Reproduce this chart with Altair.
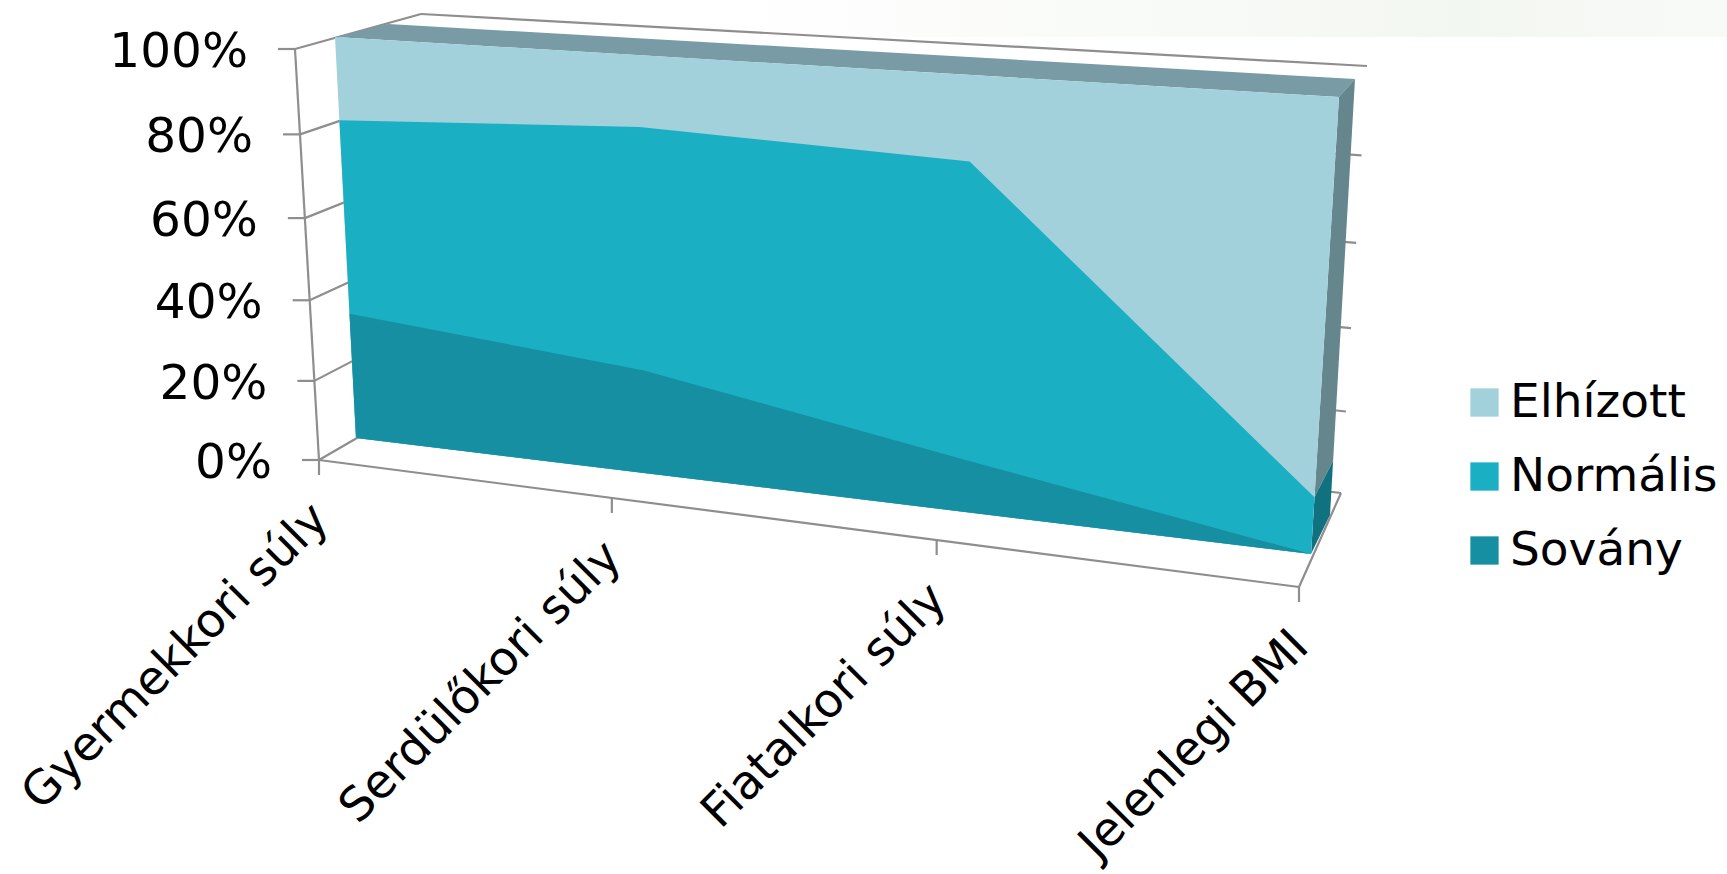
import altair as alt
import numpy as np
import pandas as pd

# Share of respondents per life stage, in percent
categories = ["Gyermekkori súly", "Serdülőkori súly", "Fiatalkori súly", "Jelenlegi BMI"]
sovany = [32, 25.5, 12.5, 0]
normalis = [48, 58, 68.5, 13]
elhizott = [20, 16.5, 19, 87]
series_names = ["Elhízott", "Normális", "Sovány"]
series_colors = ["#A2D1DC", "#1BAFC4", "#168FA3"]
side_colors = ["#66868D", "#10727F"]
top_color = "#789BA5"
line_color = "#8E8E8E"
percent_ticks = [0, 20, 40, 60, 80, 100]

FONT = "DejaVu Sans"
W, H = 1727, 874


def plane(bl, br, tr, tl):
    """Homography taking (u, v) in the unit square onto a screen quadrilateral."""
    src = [(0, 0), (1, 0), (1, 1), (0, 1)]
    dst = [bl, br, tr, tl]
    a, b = [], []
    for (u, v), (x, y) in zip(src, dst):
        a.append([u, v, 1, 0, 0, 0, -u * x, -v * x])
        a.append([0, 0, 0, u, v, 1, -u * y, -v * y])
        b += [x, y]
    h = np.append(np.linalg.solve(np.array(a, float), np.array(b, float)), 1).reshape(3, 3)

    def project(u, v):
        p = h @ np.array([u, v, 1.0])
        return float(p[0] / p[2]), float(p[1] / p[2])

    return project


# Perspective of the 3-D box: the slab holding the areas and the walls around it
slab_front = plane((356, 438), (1311, 554), (1339, 97), (335, 37))
slab_back = plane((408, 415), (1330, 515), (1355, 79), (388, 24))
wall_front = plane((319, 460), (1299, 587), (1327, 108), (295, 49))
wall_back = plane((445, 387), (1341, 493), (1367, 66), (421, 14))

n = len(categories)
us = [i / (n - 1) for i in range(n)]
cum_sov = list(sovany)
cum_norm = [a + b for a, b in zip(sovany, normalis)]
cum_top = [a + b + c for a, b, c in zip(sovany, normalis, elhizott)]


def polygon(name, pts):
    return [{"face": name, "ord": i, "x": p[0], "y": p[1]} for i, p in enumerate(pts)]


def segment(name, a, b):
    return polygon(name, [a, b])


# Walls, floor edges and tick marks
lines = []
for t in percent_ticks:
    v = t / 100
    lines += segment(f"back{t}", wall_back(0, v), wall_back(1, v))
    lines += segment(f"side{t}", wall_front(0, v), wall_back(0, v))
    x0, y0 = wall_front(0, v)
    lines += segment(f"tick{t}", (x0, y0), (x0 - 17, y0))
lines += segment("axis", wall_front(0, 0), wall_front(0, 1))
lines += segment("floor", wall_front(0, 0), wall_front(1, 0))
lines += segment("floorR", wall_front(1, 0), wall_back(1, 0))
for i, u in enumerate(us):
    x0, y0 = wall_front(u, 0)
    lines += segment(f"cat{i}", (x0, y0), (x0, y0 + 15))
lines_df = pd.DataFrame(lines)

# Top of the slab and its right-hand side
top_face = polygon("top", [slab_front(0, 1), slab_front(1, 1), slab_back(1, 1), slab_back(0, 1)])
end_norm = cum_norm[-1] / 100
side_upper = polygon("up", [slab_front(1, end_norm), slab_front(1, 1), slab_back(1, 1), slab_back(1, end_norm)])
side_lower = polygon("low", [slab_front(1, 0), slab_front(1, end_norm), slab_back(1, end_norm), slab_back(1, 0)])

# Front faces, stacked bands painted largest first
front = []
for name, cum in zip(series_names, [cum_top, cum_norm, cum_sov]):
    outline = [slab_front(u, c / 100) for u, c in zip(us, cum)]
    outline += [slab_front(u, 0) for u in reversed(us)]
    for row in polygon(name, outline):
        row["series"] = name
        front.append(row)
front_df = pd.DataFrame(front)

# Axis text
y_labels = []
for t in percent_ticks:
    x0, y0 = wall_front(0, t / 100)
    y_labels.append({"x": x0 - 47, "y": y0 + 3, "label": f"{t}%"})
x_labels = []
for u, c in zip(us, categories):
    x0, y0 = wall_front(u, 0)
    x_labels.append({"x": x0 + 2, "y": y0 + 52, "label": c})

x_enc = alt.X("x:Q", scale=alt.Scale(domain=[0, W], range=[0, W], nice=False, zero=False), axis=None)
y_enc = alt.Y("y:Q", scale=alt.Scale(domain=[0, H], range=[0, H], nice=False, zero=False), axis=None)


def solid(rows, color):
    return (
        alt.Chart(pd.DataFrame(rows))
        .mark_line(fill=color, strokeWidth=0, interpolate="linear")
        .encode(x=x_enc, y=y_enc, order=alt.Order("ord:Q"))
    )


# Pale wash along the top edge of the page
wash = (
    alt.Chart(pd.DataFrame([{"x": 0, "x2": W, "y": 0, "y2": 37}]))
    .mark_rect(
        fill=alt.Gradient(
            gradient="linear",
            x1=0, x2=1, y1=0, y2=0,
            stops=[
                alt.GradientStop(color="#FFFFFF", offset=0.4),
                alt.GradientStop(color="#F3F7F1", offset=0.85),
                alt.GradientStop(color="#F8FAF7", offset=1),
            ],
        )
    )
    .encode(x=x_enc, x2="x2:Q", y=y_enc, y2="y2:Q")
)

grid = (
    alt.Chart(lines_df)
    .mark_line(color=line_color, strokeWidth=2.2)
    .encode(x=x_enc, y=y_enc, detail="face:N", order=alt.Order("ord:Q"))
)

bands = (
    alt.Chart(front_df)
    .mark_line(strokeWidth=0, interpolate="linear")
    .encode(
        x=x_enc,
        y=y_enc,
        order=alt.Order("ord:Q"),
        fill=alt.Fill(
            "series:N",
            scale=alt.Scale(domain=series_names, range=series_colors),
            legend=alt.Legend(
                title=None,
                orient="none",
                legendX=1461,
                legendY=379,
                symbolType="square",
                symbolSize=800,
                symbolStrokeWidth=0,
                labelFont=FONT,
                labelFontSize=47,
                labelColor="#000000",
                labelOffset=2,
                labelLimit=300,
                rowPadding=26,
            ),
        ),
    )
)

y_text = (
    alt.Chart(pd.DataFrame(y_labels))
    .mark_text(font=FONT, fontSize=48.5, align="right", baseline="middle", color="#000000")
    .encode(x=x_enc, y=y_enc, text="label:N")
)
x_text = (
    alt.Chart(pd.DataFrame(x_labels))
    .mark_text(font=FONT, fontSize=47, align="right", baseline="middle", angle=315, color="#000000")
    .encode(x=x_enc, y=y_enc, text="label:N")
)

chart = (
    alt.layer(
        wash,
        grid,
        solid(top_face, top_color),
        solid(side_upper, side_colors[0]),
        solid(side_lower, side_colors[1]),
        bands,
        y_text,
        x_text,
    )
    .properties(width=W, height=H, padding=0, autosize=alt.AutoSizeParams(type="none"), background="#FFFFFF")
    .configure_view(stroke=None)
)

chart.save("out.html", embed_options={"renderer": "svg", "actions": False})
